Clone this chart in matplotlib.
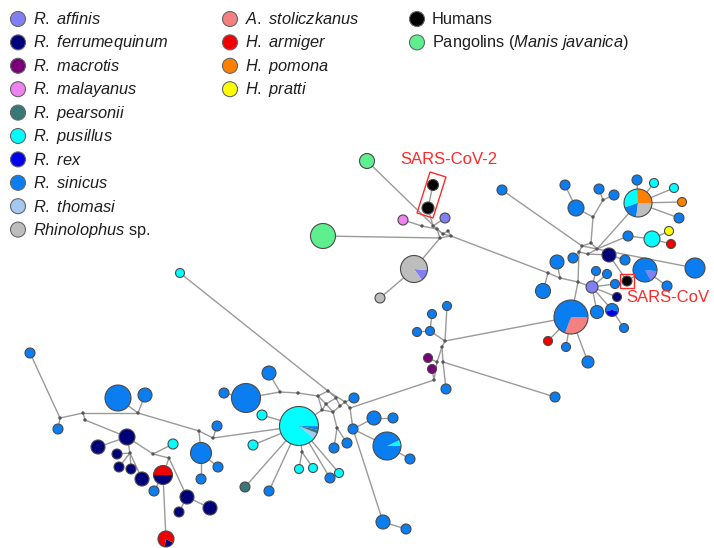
import matplotlib
matplotlib.use("Agg")
import matplotlib.pyplot as plt
from matplotlib.patches import Circle, Wedge, Polygon, Rectangle

plt.rcParams["font.family"] = ["Liberation Sans", "DejaVu Sans"]
plt.rcParams["mathtext.fontset"] = "custom"
plt.rcParams["mathtext.rm"] = "Liberation Sans"
plt.rcParams["mathtext.it"] = "Liberation Sans:italic"

# legend entries
legend_col1 = ["R. affinis", "R. ferrumequinum", "R. macrotis", "R. malayanus", "R. pearsonii",
               "R. pusillus", "R. rex", "R. sinicus", "R. thomasi", "Rhinolophus sp."]
legend_col2 = ["A. stoliczkanus", "H. armiger", "H. pomona", "H. pratti"]
legend_col3 = ["Humans", "Pangolins"]

colors = {
    "R. affinis": "#8080f4", "R. ferrumequinum": "#00007a", "R. macrotis": "#7a007a",
    "R. malayanus": "#ee82ee", "R. pearsonii": "#3a7878", "R. pusillus": "#00ffff",
    "R. rex": "#0000f0", "R. sinicus": "#0a7ef0", "R. thomasi": "#a4c8f0",
    "Rhinolophus sp.": "#bdbdbd", "A. stoliczkanus": "#f48080", "H. armiger": "#f00000",
    "H. pomona": "#ff8000", "H. pratti": "#ffff00", "Humans": "#000000",
    "Pangolins": "#5ef08e",
}

# haplotype nodes (layout in picture pixels), radius, host species or "pie"
node_names = ["P1", "P2", "H1", "H2", "MAL", "AF1", "G1", "G2", "CY0",
              "S18", "S1", "S2", "S3", "S4", "PIE1", "S5", "C1", "C2", "O1", "S6",
              "S7", "C3", "Y1", "R1", "N1", "S8", "PIE2", "S9", "HB", "S10",
              "S11", "S12", "S13", "S19", "S20", "AF2", "SA", "PIE3", "N2", "S14",
              "RX", "S15", "RD2", "S16", "S17",
              "Sm1", "Sm2", "Sm3", "Sm4", "MAC1", "MAC2", "Sm5", "Sm6",
              "BS", "Lm1", "Lm2", "CP", "Cc1", "Cc2", "PE", "Lm3", "Cc3", "Cc4",
              "Lm4", "Cc5", "Lm5", "Lm6", "Lm7", "Lm8", "Lm9", "SQ", "SP", "Lm10",
              "Lm11", "Lm12",
              "Lf1", "Lf2", "BSL", "Lf3", "NV1", "NV2", "NV3", "NV4", "NV5", "NV6",
              "CY", "RN1", "Lf4", "NV7", "NV8", "NV9", "RN2", "Lf5", "Lf6", "Lf7", "Lf8"]
node_x = [367, 323, 433, 428, 403, 445, 414, 380, 180,
          502, 565, 576, 599, 614, 638, 637, 654, 674, 682, 679,
          628, 652, 669, 671, 609, 625, 645, 695, 627, 667,
          573, 557, 596, 607, 615, 592, 543, 571, 617, 597,
          612, 624, 548, 566, 588,
          447, 432, 417, 430, 428, 432, 446, 555,
          246, 269, 224, 299, 262, 253, 245, 269, 299, 313,
          330, 339, 334, 347, 354, 374, 393, 353, 387, 410,
          383, 406,
          30, 58, 118, 145, 127, 98, 117, 119, 131, 142,
          173, 163, 154, 187, 179, 210, 166, 201, 217, 218, 201]
node_y = [161, 236, 185, 208, 220, 218, 269, 298, 273,
          190, 185, 208, 189, 195, 203, 180, 183, 188, 202, 218,
          236, 239, 231, 244, 255, 260, 270, 268, 281, 286,
          258, 262, 271, 274, 284, 287, 291, 317, 297, 312,
          310, 328, 341, 347, 362,
          306, 314, 332, 331, 358, 369, 389, 397,
          398, 373, 393, 426, 415, 445, 487, 491, 469, 468,
          478, 473, 448, 443, 398, 418, 418, 429, 446, 459,
          522, 529,
          353, 429, 398, 395, 437, 447, 454, 467, 469, 479,
          444, 475, 491, 497, 512, 508, 539, 453, 426, 467, 479]
node_r = [7.5, 12.5, 5.5, 6, 5, 5, 13.5, 5, 4.5,
          5, 5, 8, 5, 5, 14, 5, 4.5, 4.5, 4.5, 5,
          5, 8, 4.5, 4.5, 7, 5, 12, 10, 5, 5,
          5, 7, 4.5, 4.5, 4.5, 6, 7.5, 17, 4.5, 6.5,
          6.5, 4.5, 4.5, 4.5, 6,
          4.5, 4.5, 4.5, 4.5, 4.5, 4.5, 5, 5,
          14.5, 7, 5, 19.5, 5, 5, 5, 5, 4.5, 4.5,
          5, 4.5, 5, 5, 5, 7, 5, 5, 14, 5,
          7, 5,
          5, 5, 13, 7, 8, 7, 5, 5, 5, 7,
          5, 9.5, 5, 7, 5, 7, 8, 10.5, 5, 5, 5]
node_host = ["Pangolins", "Pangolins", "Humans", "Humans", "R. malayanus", "R. affinis", "pie",
             "Rhinolophus sp.", "R. pusillus",
             "R. sinicus", "R. sinicus", "R. sinicus", "R. sinicus", "R. sinicus", "pie",
             "R. sinicus", "R. pusillus", "R. pusillus", "H. pomona", "R. sinicus",
             "R. sinicus", "R. pusillus", "H. pratti", "H. armiger", "R. ferrumequinum",
             "R. sinicus", "pie", "R. sinicus", "Humans", "R. sinicus",
             "R. sinicus", "R. sinicus", "R. sinicus", "R. sinicus", "R. sinicus",
             "R. affinis", "R. sinicus", "pie", "R. ferrumequinum", "R. sinicus",
             "pie", "R. sinicus", "H. armiger", "R. sinicus", "R. sinicus",
             "R. sinicus", "R. sinicus", "R. sinicus", "R. sinicus", "R. macrotis",
             "R. macrotis", "R. sinicus", "R. sinicus",
             "R. sinicus", "R. sinicus", "R. sinicus", "pie", "R. pusillus", "R. pusillus",
             "R. pearsonii", "R. sinicus", "R. pusillus", "R. pusillus",
             "R. sinicus", "R. pusillus", "R. sinicus", "R. sinicus", "R. sinicus",
             "R. sinicus", "R. sinicus", "R. sinicus", "pie", "R. sinicus",
             "R. sinicus", "R. sinicus",
             "R. sinicus", "R. sinicus", "R. sinicus", "R. sinicus", "R. ferrumequinum",
             "R. ferrumequinum", "R. ferrumequinum", "R. ferrumequinum", "R. ferrumequinum",
             "R. ferrumequinum", "R. pusillus", "pie", "R. sinicus", "R. ferrumequinum",
             "R. ferrumequinum", "R. ferrumequinum", "pie", "R. sinicus", "R. sinicus",
             "R. sinicus", "R. sinicus"]

# mixed-host haplotypes: fractions, counter-clockwise from a start angle
pie_parts = {
    "G1": [("R. affinis", 0.14), ("Rhinolophus sp.", 0.86)],
    "PIE1": [("H. pomona", 0.26), ("R. pusillus", 0.29), ("R. sinicus", 0.18), ("Rhinolophus sp.", 0.27)],
    "PIE2": [("R. affinis", 0.15), ("R. sinicus", 0.85)],
    "PIE3": [("A. stoliczkanus", 0.30), ("R. sinicus", 0.70)],
    "RX": [("R. sinicus", 0.58), ("R. rex", 0.42)],
    "CP": [("R. thomasi", 0.05), ("R. pearsonii", 0.03), ("R. sinicus", 0.03), ("R. pusillus", 0.89)],
    "SP": [("R. pusillus", 0.07), ("R. sinicus", 0.93)],
    "RN1": [("H. armiger", 0.5), ("R. ferrumequinum", 0.5)],
    "RN2": [("R. ferrumequinum", 0.2), ("H. armiger", 0.8)],
}
pie_start = {"G1": -55, "PIE1": 0, "PIE2": -60, "PIE3": -110, "RX": -15,
             "CP": -40, "SP": 0, "RN1": 0, "RN2": -100}

# median vectors (unsampled haplotypes)
vertex_names = ["j1", "j2", "j3", "j4", "j5", "tv1", "tv2", "ra", "rb", "rc",
                "h1", "h2", "h3", "h4", "h5", "rv", "rv2",
                "mv1", "mv2", "mv3", "mv4", "mv5",
                "x1", "x2", "x3", "x4", "x5", "x6", "x7", "x8", "x9",
                "va", "vb", "vc", "vd", "vg", "vh", "vi", "vj", "vk", "vj2", "vl", "vm", "vn"]
vertex_x = [437, 443, 448, 440, 451, 422, 433, 548, 560, 578,
            582, 591, 597, 588, 579, 593, 603,
            445, 442, 437, 443, 434,
            318, 328, 336, 326, 340, 333, 345, 322, 350,
            280, 298, 302, 337, 213, 199, 138, 83, 60, 85, 130, 153, 169]
vertex_y = [229, 234, 231, 238, 236, 226, 226, 273, 278, 282,
            246, 243, 249, 254, 252, 217, 200,
            341, 347, 362, 362, 380,
            396, 391, 398, 404, 406, 412, 402, 410, 408,
            392, 393, 452, 428, 438, 431, 413, 413, 418, 420, 453, 454, 458]

edges = [
    ("P1", "j1"), ("H1", "H2"), ("H2", "tv2"), ("MAL", "tv1"), ("tv1", "j1"), ("AF1", "tv2"),
    ("tv2", "j2"), ("P2", "j4"), ("G1", "j4"), ("G2", "G1"), ("j1", "j2"), ("j2", "j3"),
    ("j3", "j5"), ("j5", "j4"), ("j4", "j1"), ("j2", "j5"), ("j5", "ra"),
    ("ra", "rb"), ("ra", "SA"), ("rb", "S12"), ("rb", "rc"), ("rc", "PIE3"), ("rc", "h5"),
    ("rc", "AF2"), ("S11", "h5"), ("h1", "h2"), ("h2", "h3"), ("h3", "h4"), ("h4", "h5"),
    ("h5", "h1"), ("h1", "h3"), ("h2", "rv"), ("rv", "S2"), ("S2", "S1"), ("rv", "rv2"),
    ("rv2", "S3"), ("rv2", "S4"), ("h1", "S18"), ("h3", "PIE1"), ("PIE1", "S5"), ("PIE1", "C1"),
    ("PIE1", "C2"), ("PIE1", "O1"), ("PIE1", "S6"), ("h3", "S7"), ("S7", "C3"), ("C3", "Y1"),
    ("C3", "R1"), ("h3", "S9"), ("h4", "N1"), ("N1", "S8"), ("N1", "HB"), ("HB", "PIE2"),
    ("PIE2", "S10"), ("AF2", "S13"), ("AF2", "S19"), ("AF2", "S20"), ("AF2", "N2"),
    ("AF2", "RX"), ("AF2", "S14"), ("RX", "S15"), ("PIE3", "RD2"), ("PIE3", "S16"),
    ("PIE3", "S17"), ("PIE3", "mv1"),
    ("Sm1", "mv1"), ("Sm2", "Sm4"), ("Sm3", "Sm4"), ("Sm4", "mv1"), ("mv1", "mv2"),
    ("mv2", "mv3"), ("mv2", "mv4"), ("mv3", "MAC1"), ("mv3", "mv5"), ("MAC2", "mv5"),
    ("mv4", "Sm5"), ("mv4", "Sm6"), ("mv5", "x9"),
    ("x1", "x2"), ("x2", "x3"), ("x3", "x4"), ("x4", "x1"), ("x3", "x5"), ("x5", "x6"),
    ("x6", "x4"), ("x5", "x7"), ("x7", "x9"), ("x2", "x7"), ("x8", "x4"), ("x8", "x6"),
    ("x1", "x8"), ("CY0", "x2"), ("BS", "va"), ("va", "vb"), ("vb", "x1"), ("Lm1", "va"),
    ("Lm2", "BS"), ("CP", "x8"), ("CP", "Cc1"), ("CP", "Cc2"), ("CP", "PE"), ("CP", "Lm3"),
    ("CP", "vc"), ("vc", "Cc3"), ("vc", "Cc4"), ("CP", "Lm4"), ("CP", "Cc5"), ("x6", "vd"),
    ("vd", "Lm5"), ("vd", "Lm6"), ("Lm7", "x7"), ("x9", "SQ"), ("SQ", "Lm8"), ("Lm8", "Lm9"),
    ("SQ", "SP"), ("SP", "Lm10"), ("SQ", "Lm11"), ("Lm11", "Lm12"),
    ("vg", "CP"), ("Lf6", "vg"), ("vh", "vg"), ("vh", "Lf5"), ("Lf5", "Lf7"), ("Lf5", "Lf8"),
    ("vh", "vi"), ("vi", "BSL"), ("vi", "Lf3"), ("vi", "vj"), ("vj", "vk"), ("vk", "Lf1"),
    ("vk", "Lf2"), ("vj", "vj2"), ("vj2", "NV1"), ("NV1", "NV2"), ("NV1", "vl"), ("vl", "NV3"),
    ("vl", "NV4"), ("vl", "NV5"), ("vl", "NV6"), ("NV1", "vm"), ("vm", "CY"), ("vm", "vn"),
    ("vn", "RN1"), ("vn", "NV7"), ("NV7", "NV8"), ("NV7", "NV9"), ("RN1", "Lf4"), ("RN1", "RN2"),
]

pos = {n: (x, y) for n, x, y in zip(node_names, node_x, node_y)}
pos.update({n: (x, y) for n, x, y in zip(vertex_names, vertex_x, vertex_y)})

fig = plt.figure(figsize=(7.14, 5.48), dpi=100)
ax = fig.add_axes([0, 0, 1, 1])
ax.set_xlim(0, 714)
ax.set_ylim(548, 0)
ax.axis("off")

edge_col = "#9a9a9a"
outline = "#4a4a4a"

for a, b in edges:
    (x1, y1), (x2, y2) = pos[a], pos[b]
    ax.plot([x1, x2], [y1, y2], color=edge_col, lw=1.0, zorder=1, solid_capstyle="round")

for n in vertex_names:
    ax.add_patch(Circle(pos[n], 1.0, color="#555555", zorder=2))

for n, x, y, r, host in zip(node_names, node_x, node_y, node_r, node_host):
    if host == "pie":
        ang = pie_start[n]
        for sp, frac in pie_parts[n]:
            span = frac * 360
            # y axis is inverted, so visual ccw angles are negated
            ax.add_patch(Wedge((x, y), r, -(ang + span), -ang, facecolor=colors[sp],
                               edgecolor="none", zorder=3))
            ang += span
        ax.add_patch(Circle((x, y), r, facecolor="none", edgecolor=outline, lw=0.8, zorder=4))
    else:
        ax.add_patch(Circle((x, y), r, facecolor=colors[host], edgecolor=outline, lw=0.8, zorder=3))

# SARS-CoV-2 / SARS-CoV annotations
red = "#ff2a2a"
ax.add_patch(Polygon([(430, 172), (446, 177), (433, 218), (417, 213)], closed=True,
                     fill=False, edgecolor=red, lw=1.0, zorder=5))
ax.text(449, 159, "SARS-CoV-2", color=red, fontsize=12, ha="center", va="center", zorder=6)
ax.add_patch(Rectangle((620, 274), 14, 14, fill=False, edgecolor=red, lw=1.0, zorder=5))
ax.text(626, 298, "SARS-CoV", color=red, fontsize=12, ha="left", va="center", zorder=6)

# legend
text_col = "#1e1e1e"
fs = 11.8


def legend_label(name):
    if name == "Rhinolophus sp.":
        return r"$\mathit{Rhinolophus}$ sp."
    if name == "Pangolins":
        return r"Pangolins ($\mathit{Manis\ javanica}$)"
    if name == "Humans":
        return "Humans"
    return r"$\mathit{" + name.replace(" ", r"\ ") + "}$"


for col, x0 in [(legend_col1, 18), (legend_col2, 230), (legend_col3, 417)]:
    for i, name in enumerate(col):
        y = 19 + i * 23.4
        ax.add_patch(Circle((x0, y), 7.5, facecolor=colors[name], edgecolor="#666666",
                            lw=0.8, zorder=3))
        ax.text(x0 + 15, y + 0.5, legend_label(name), fontsize=fs, color=text_col,
                ha="left", va="center")

fig.savefig("out.png", dpi=100)
